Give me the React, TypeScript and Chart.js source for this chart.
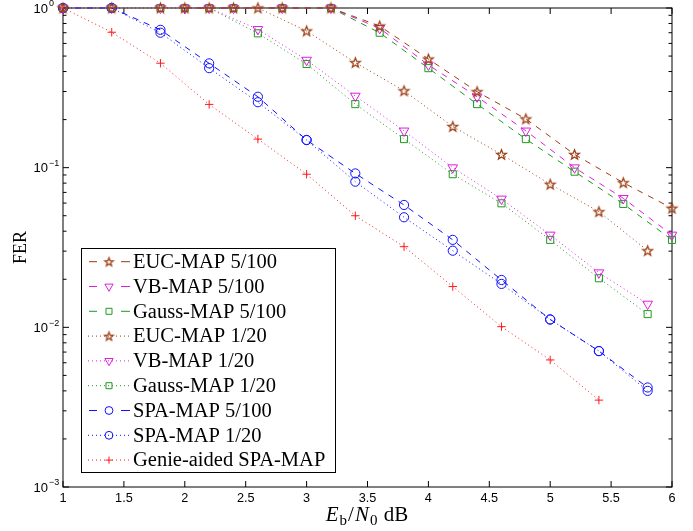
import React, { useEffect, useRef } from "react";
import { Chart, registerables } from "chart.js";
import { drawPoint } from "chart.js/helpers";

Chart.register(...registerables);

// ---------- data ----------
const ebnoA = [1.0, 1.4, 1.8, 2.2, 2.6, 3.0, 3.4, 3.8, 4.2, 4.6, 5.0, 5.4, 5.8];
const ebnoB = [2.0, 2.4, 2.8, 3.2, 3.6, 4.0, 4.4, 4.8, 5.2, 5.6, 6.0];
const ebnoGenie = [1.0, 1.4, 1.8, 2.2, 2.6, 3.0, 3.4, 3.8, 4.2, 4.6, 5.0, 5.4];

const eucMap5_100 = [1, 1, 1, 1, 0.771, 0.479, 0.299, 0.202, 0.121, 0.0805, 0.0557];
const vbMap5_100 = [1, 1, 1, 1, 0.746, 0.44, 0.278, 0.17, 0.1, 0.0643, 0.0379];
const gaussMap5_100 = [1, 1, 1, 1, 0.7, 0.42, 0.25, 0.151, 0.0944, 0.0593, 0.0353];
const eucMap1_20 = [1, 1, 1, 1, 1, 0.718, 0.455, 0.303, 0.181, 0.121, 0.0787, 0.053, 0.0302];
const vbMap1_20 = [1, 1, 1, 1, 0.735, 0.472, 0.281, 0.17, 0.1, 0.0637, 0.0379, 0.022, 0.014];
const gaussMap1_20 = [1, 1, 1, 1, 0.694, 0.446, 0.25, 0.151, 0.091, 0.0598, 0.0353, 0.0203, 0.0121];
const spaMap5_100 = [1, 1, 0.73, 0.45, 0.278, 0.149, 0.092, 0.0584, 0.0353, 0.0198, 0.0112, 0.0071, 0.0042];
const spaMap1_20 = [1, 1, 0.7, 0.42, 0.257, 0.149, 0.0817, 0.0489, 0.0302, 0.0187, 0.0112, 0.0071, 0.004];
const genieSpaMap = [1, 0.705, 0.451, 0.249, 0.151, 0.091, 0.05, 0.032, 0.018, 0.0101, 0.00625, 0.0035];

const xTickValues = [1, 1.5, 2, 2.5, 3, 3.5, 4, 4.5, 5, 5.5, 6];
const yDecades = [1e-3, 1e-2, 1e-1, 1];
const yDecadeExponents = ["−3", "−2", "−1", "0"];

// ---------- styles ----------
const C_EUC = "#9c3c12";
const C_VB = "#dd1fdd";
const C_GAUSS = "#1e9a1e";
const C_SPA = "#1010ff";
const C_GENIE = "#ff1a1a";
const DASH = [6, 6];
const DOT = [1, 3];

function makeStar(color: string, R: number) {
  const size = Math.ceil(2 * R + 4);
  const c = document.createElement("canvas");
  c.width = size;
  c.height = size;
  const ctx = c.getContext("2d")!;
  const r = R * 0.42;
  ctx.translate(size / 2, size / 2 + 0.4);
  ctx.beginPath();
  for (let k = 0; k < 10; k++) {
    const a = -Math.PI / 2 + (k * Math.PI) / 5;
    const rad = k % 2 === 0 ? R : r;
    const px = rad * Math.cos(a);
    const py = rad * Math.sin(a);
    if (k === 0) ctx.moveTo(px, py);
    else ctx.lineTo(px, py);
  }
  ctx.closePath();
  ctx.strokeStyle = color;
  ctx.lineWidth = 1.25;
  ctx.lineJoin = "miter";
  ctx.stroke();
  return c;
}

type Series = {
  label: string;
  xs: number[];
  ys: number[];
  color: string;
  dash: number[];
  style: any;
  legendStyle: any;
  radius: number;
  rotation: number;
  legendDashed: boolean;
};

export default function App() {
  const ref = useRef<HTMLCanvasElement>(null);

  useEffect(() => {
    const canvas = ref.current!;
    const star = makeStar(C_EUC, 5.2);
    const starSmall = makeStar(C_EUC, 4.4);

    const series: Series[] = [
      { label: "EUC-MAP 5/100", xs: ebnoB, ys: eucMap5_100, color: C_EUC, dash: DASH, style: star, legendStyle: starSmall, radius: 5, rotation: 0, legendDashed: true },
      { label: "VB-MAP 5/100", xs: ebnoB, ys: vbMap5_100, color: C_VB, dash: DASH, style: "triangle", legendStyle: "triangle", radius: 5.6, rotation: 180, legendDashed: true },
      { label: "Gauss-MAP 5/100", xs: ebnoB, ys: gaussMap5_100, color: C_GAUSS, dash: DASH, style: "rect", legendStyle: "rect", radius: 5, rotation: 0, legendDashed: true },
      { label: "EUC-MAP 1/20", xs: ebnoA, ys: eucMap1_20, color: C_EUC, dash: DOT, style: star, legendStyle: starSmall, radius: 5, rotation: 0, legendDashed: false },
      { label: "VB-MAP 1/20", xs: ebnoA, ys: vbMap1_20, color: C_VB, dash: DOT, style: "triangle", legendStyle: "triangle", radius: 5.6, rotation: 180, legendDashed: false },
      { label: "Gauss-MAP 1/20", xs: ebnoA, ys: gaussMap1_20, color: C_GAUSS, dash: DOT, style: "rect", legendStyle: "rect", radius: 5, rotation: 0, legendDashed: false },
      { label: "SPA-MAP 5/100", xs: ebnoA, ys: spaMap5_100, color: C_SPA, dash: DASH, style: "circle", legendStyle: "circle", radius: 4.6, rotation: 0, legendDashed: true },
      { label: "SPA-MAP 1/20", xs: ebnoA, ys: spaMap1_20, color: C_SPA, dash: DOT, style: "circle", legendStyle: "circle", radius: 4.6, rotation: 0, legendDashed: false },
      { label: "Genie-aided SPA-MAP", xs: ebnoGenie, ys: genieSpaMap, color: C_GENIE, dash: DOT, style: "cross", legendStyle: "cross", radius: 4.2, rotation: 0, legendDashed: false },
    ];

    const framePlugin = {
      id: "frame",
      beforeDatasetsDraw(chart: any) {
        const { ctx, chartArea: a, scales } = chart;
        const xs = scales.x;
        const ys = scales.y;
        ctx.save();
        ctx.strokeStyle = "#000";
        ctx.lineWidth = 1;
        ctx.setLineDash([]);
        ctx.strokeRect(a.left, a.top, a.right - a.left, a.bottom - a.top);
        ctx.beginPath();
        for (const v of xTickValues) {
          const px = xs.getPixelForValue(v);
          ctx.moveTo(px, a.bottom);
          ctx.lineTo(px, a.bottom - 6);
          ctx.moveTo(px, a.top);
          ctx.lineTo(px, a.top + 6);
        }
        for (const d of yDecades) {
          const py = ys.getPixelForValue(d);
          ctx.moveTo(a.left, py);
          ctx.lineTo(a.left + 6, py);
          ctx.moveTo(a.right, py);
          ctx.lineTo(a.right - 6, py);
          if (d < 1) {
            for (let m = 2; m <= 9; m++) {
              const pm = ys.getPixelForValue(d * m);
              ctx.moveTo(a.left, pm);
              ctx.lineTo(a.left + 3.5, pm);
              ctx.moveTo(a.right, pm);
              ctx.lineTo(a.right - 3.5, pm);
            }
          }
        }
        ctx.stroke();
        ctx.restore();
      },
      afterDraw(chart: any) {
        const { ctx, chartArea: a, scales } = chart;
        const ys = scales.y;
        ctx.save();
        // y tick labels 10^k
        ctx.fillStyle = "#000";
        yDecades.forEach((d, i) => {
          const py = ys.getPixelForValue(d);
          ctx.font = "13px 'Liberation Sans', Arial, sans-serif";
          ctx.textAlign = "right";
          ctx.textBaseline = "middle";
          ctx.fillText("10", 48, py + 1);
          ctx.font = "9px 'Liberation Sans', Arial, sans-serif";
          ctx.textAlign = "left";
          ctx.fillText(yDecadeExponents[i], 49, py - 4);
        });
        // y title
        ctx.save();
        ctx.translate(21, (a.top + a.bottom) / 2);
        ctx.rotate(-Math.PI / 2);
        ctx.font = "18px 'Liberation Serif', serif";
        ctx.textAlign = "center";
        ctx.textBaseline = "middle";
        ctx.fillText("FER", 0, 0);
        ctx.restore();
        // x title: E_b/N_0 dB
        const parts: { t: string; f: string; dy: number }[] = [
          { t: "E", f: "italic 21px 'Liberation Serif', serif", dy: 0 },
          { t: "b", f: "15px 'Liberation Serif', serif", dy: 4 },
          { t: "/", f: "21px 'Liberation Serif', serif", dy: 0 },
          { t: "N", f: "italic 21px 'Liberation Serif', serif", dy: 0 },
          { t: "0", f: "15px 'Liberation Serif', serif", dy: 4 },
          { t: " dB", f: "21px 'Liberation Serif', serif", dy: 0 },
        ];
        let total = 0;
        const widths: number[] = [];
        for (const p of parts) {
          ctx.font = p.f;
          const w = ctx.measureText(p.t).width + 1;
          widths.push(w);
          total += w;
        }
        let cx = (a.left + a.right) / 2 - total / 2;
        ctx.textAlign = "left";
        ctx.textBaseline = "alphabetic";
        parts.forEach((p, i) => {
          ctx.font = p.f;
          ctx.fillText(p.t, cx, 521 + p.dy);
          cx += widths[i];
        });

        // legend
        const lx = 81, ly = 248, lw = 254, lh = 224;
        ctx.fillStyle = "#fff";
        ctx.fillRect(lx, ly, lw, lh);
        ctx.strokeStyle = "#000";
        ctx.lineWidth = 1;
        ctx.setLineDash([]);
        ctx.strokeRect(lx + 0.5, ly + 0.5, lw, lh);
        series.forEach((s, i) => {
          const cy = 261.7 + i * 24.8;
          ctx.strokeStyle = s.color;
          ctx.lineWidth = 1;
          ctx.beginPath();
          if (s.legendDashed) {
            ctx.setLineDash([]);
            ctx.moveTo(89, cy);
            ctx.lineTo(97, cy);
            ctx.moveTo(121, cy);
            ctx.lineTo(130, cy);
          } else {
            ctx.setLineDash(DOT);
            ctx.moveTo(88, cy);
            ctx.lineTo(130, cy);
          }
          ctx.stroke();
          ctx.setLineDash([]);
          ctx.fillStyle = "rgba(0,0,0,0)";
          ctx.strokeStyle = s.color;
          drawPoint(ctx, { pointStyle: s.legendStyle, rotation: s.rotation, radius: s.radius * 0.85, borderWidth: 1 } as any, 109, cy);
          ctx.fillStyle = "#000";
          ctx.font = "20.5px 'Liberation Serif', serif";
          ctx.textAlign = "left";
          ctx.textBaseline = "middle";
          ctx.fillText(s.label, 133, cy + 1);
        });
        ctx.restore();
      },
    };

    const chart = new Chart(canvas, {
      type: "line",
      data: {
        datasets: series.map((s) => ({
          label: s.label,
          data: s.xs.map((x, i) => ({ x, y: s.ys[i] })),
          borderColor: s.color,
          borderWidth: 1,
          borderDash: s.dash,
          pointStyle: s.style,
          pointRadius: s.radius,
          pointRotation: s.rotation,
          pointBorderColor: s.color,
          pointBackgroundColor: "rgba(0,0,0,0)",
          pointBorderWidth: 1,
          fill: false,
          tension: 0,
          clip: false as any,
        })),
      },
      options: {
        animation: false,
        responsive: false,
        devicePixelRatio: 1,
        events: [],
        layout: { padding: { left: 0, right: 21, top: 8, bottom: 0 } },
        plugins: { legend: { display: false }, tooltip: { enabled: false } },
        scales: {
          x: {
            type: "linear",
            min: 1,
            max: 6,
            grid: { display: false, drawTicks: false },
            border: { display: false },
            ticks: {
              stepSize: 0.5,
              padding: 4,
              color: "#000",
              maxRotation: 0,
              autoSkip: false,
              font: { family: "'Liberation Sans', Arial, sans-serif", size: 12.7 },
              callback: (v: any) => String(v),
            },
            afterFit: (scale: any) => {
              scale.height = 44;
            },
          },
          y: {
            type: "logarithmic",
            min: 0.001,
            max: 1,
            grid: { display: false, drawTicks: false },
            border: { display: false },
            ticks: { display: false },
            afterFit: (scale: any) => {
              scale.width = 63;
            },
          },
        },
      },
      plugins: [framePlugin],
    });
    return () => chart.destroy();
  }, []);

  return (
    <div style={{ position: "absolute", left: 0, top: 0, width: 693, height: 531, background: "#fff" }}>
      <canvas ref={ref} width={693} height={531} style={{ display: "block", width: 693, height: 531 }} />
    </div>
  );
}
